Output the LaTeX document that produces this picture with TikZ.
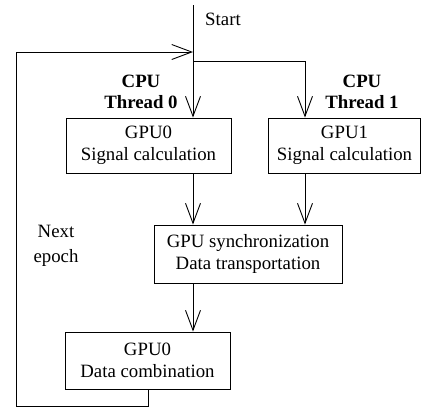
\documentclass[tikz,border=0pt]{standalone}
\usepackage{fontspec}
\setmainfont{Liberation Serif}
\usetikzlibrary{arrows.meta}
\begin{document}
\begin{tikzpicture}[x=1pt,y=-1pt,
  box/.style={draw, line width=0.9pt, inner sep=0pt, align=center, font=\fontsize{18.8}{22}\selectfont},
  lbl/.style={inner sep=0pt, align=center, font=\fontsize{18.8}{21}\selectfont},
  ln/.style={line width=0.9pt},
  arr/.style={line width=0.9pt, -{Straight Barb[length=20pt,width=15pt,line width=0.9pt]}}]
\useasboundingbox (0,0) rectangle (421,407);
\node[box, minimum width=165pt, minimum height=55pt] (g0) at (148.5,145.5) {GPU0\\Signal calculation};
\node[box, minimum width=152pt, minimum height=55pt] (g1) at (344.5,145.5) {GPU1\\Signal calculation};
\node[box, minimum width=188pt, minimum height=58pt] (sync) at (248,254) {GPU synchronization\\Data transportation};
\node[box, minimum width=165pt, minimum height=57pt] (comb) at (147.5,360.5) {GPU0\\Data combination};
\node[lbl] (start) at (223,19) {Start};
\node[lbl, font=\fontsize{18.8}{21}\selectfont\bfseries] (t0) at (141,92) {CPU\\Thread 0};
\node[lbl, font=\fontsize{18.8}{21}\selectfont\bfseries] (t1) at (362,92) {CPU\\Thread 1};
\node[lbl, font=\fontsize{18.8}{25}\selectfont] (ne) at (56,246) {Next\\epoch};
\coordinate (top) at (193,5);
\coordinate (join) at (193,52);
\coordinate (split) at (193,61);
\coordinate (right) at (305,61);
\coordinate (fb) at (148,406);
\coordinate (c1) at (16,406);
\coordinate (c2) at (16,52);
\draw[ln] (top) -- (split);
\draw[arr] (split) -- (split |- g0.north);
\draw[arr] (split) -- (right) -- (right |- g1.north);
\draw[arr] (g0.south -| split) -- (sync.north -| split);
\draw[arr] (g1.south -| right) -- (sync.north -| right);
\draw[arr] (sync.south -| split) -- (comb.north -| split);
\draw[arr] (comb.south -| fb) -- (fb) -- (c1) -- (c2) -- (join);
\end{tikzpicture}
\end{document}
